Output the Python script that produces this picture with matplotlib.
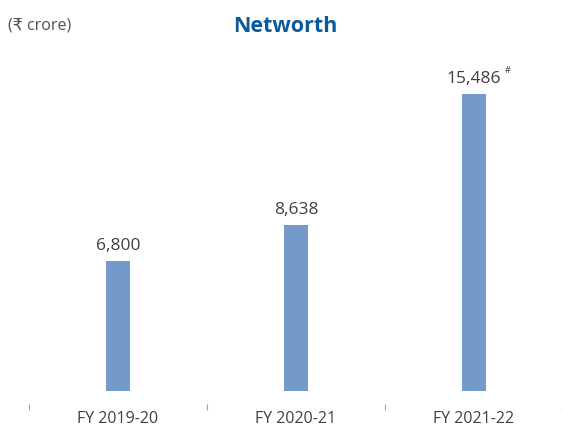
import numpy as np
import matplotlib.pyplot as plt

# data
years = ['FY 2019-20', 'FY 2020-21', 'FY 2021-22']
networth = [6800, 8638, 15486]
labels = ['6,800', '8,638', '15,486']

plt.rcParams['font.family'] = ['Open Sans', 'DejaVu Sans']

fig = plt.figure(figsize=(5.63, 4.28), dpi=100)
ax = fig.add_axes([29 / 563, 37 / 428, 534 / 563, 326 / 428])

x = np.arange(len(years))
bars = ax.bar(x, networth, width=0.135, color='#739ac8')

ax.set_xlim(-0.5, 2.5)
ax.set_ylim(0, 17000)

# value labels
for xi, v, lab in zip(x, networth, labels):
    ax.annotate(lab, (xi, v), xytext=(0, 5), textcoords='offset points',
                ha='center', va='bottom', fontsize=12.5, color='#404040')
ax.annotate('#', (x[2], networth[2]), xytext=(22.5, 14), textcoords='offset points',
            ha='left', va='bottom', fontsize=6.5, color='#404040')

# axis: hidden line, small separator ticks below the bars
for s in ['top', 'right', 'left']:
    ax.spines[s].set_visible(False)
ax.spines['bottom'].set_position(('outward', 9.5))
ax.spines['bottom'].set_color('none')
ax.set_yticks([])
ax.set_xticks(x)
ax.set_xticklabels(years, fontsize=11.5, color='#404040')
ax.tick_params(axis='x', which='major', length=0, pad=5)
ax.set_xticks([-0.5, 0.5, 1.5, 2.5], minor=True)
ax.tick_params(axis='x', which='minor', length=4.5, width=0.8, color='#a0a0a0')

fig.text(8 / 563, 1 - 25 / 428, '(\u20b9 crore)', fontsize=11.5, color='#505050',
         ha='left', va='center')
fig.text(285 / 563, 1 - 27 / 428, 'Networth', fontsize=15.5, fontweight='bold',
         color='#0b5a9c', ha='center', va='center')

fig.savefig('out.png', dpi=100)
